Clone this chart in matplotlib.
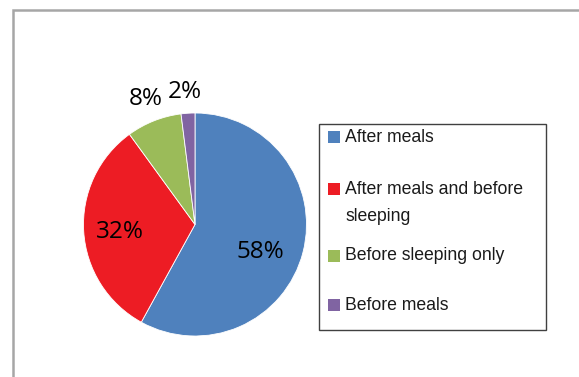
import numpy as np
import matplotlib
matplotlib.use("Agg")
import matplotlib.pyplot as plt
from matplotlib.patches import Rectangle

labels = ["After meals", "After meals and before\nsleeping", "Before sleeping only", "Before meals"]
shares = [58, 32, 8, 2]
colors = ["#4f81bd", "#ed1c24", "#9bbb59", "#8064a2"]

# where each percentage sits, as a fraction of the radius, plus a small angle nudge
label_dist = [0.635, 0.68, 1.21, 1.19]
label_nudge = [-8.5, 2, 0, 1]

W, H = 579, 377
fig = plt.figure(figsize=(W / 100, H / 100), dpi=100)

# outer chart frame, cut off at right and bottom
fig.add_artist(Rectangle((13 / W, -0.2), 1.5, 1.2 - 10.5 / H, transform=fig.transFigure,
                         fill=False, edgecolor="#a6a6a6", linewidth=1.8))

cx, cy, r = 195, 224.5, 111.5
ax = fig.add_axes([(cx - r) / W, (H - cy - r) / H, 2 * r / W, 2 * r / H])
wedges, _ = ax.pie(shares, colors=colors, startangle=90, counterclock=False, radius=1,
                   wedgeprops=dict(linewidth=0.6, edgecolor="white"))
ax.set_xlim(-1, 1)
ax.set_ylim(-1, 1)
ax.set_aspect("auto")
ax.axis("off")

for w, v, d, n in zip(wedges, shares, label_dist, label_nudge):
    mid = np.deg2rad((w.theta1 + w.theta2) / 2 + n)
    ax.text(d * np.cos(mid), d * np.sin(mid), f"{v}%", ha="center", va="center",
            fontsize=17.5, family="Open Sans", color="black")

# legend box drawn by hand
lx0, ly0, lx1, ly1 = 319, 124, 546, 330
fig.add_artist(Rectangle((lx0 / W, 1 - ly1 / H), (lx1 - lx0) / W, (ly1 - ly0) / H,
                         transform=fig.transFigure, fill=False, edgecolor="#404040", linewidth=1.0))
entry_y = [137, 189, 256, 305]
for lab, c, y in zip(labels, colors, entry_y):
    fig.add_artist(Rectangle((328 / W, 1 - (y + 6) / H), 12 / W, 12 / H,
                             transform=fig.transFigure, facecolor=c, edgecolor="none"))
    lines = lab.split("\n")
    for k, line in enumerate(lines):
        fig.text(345 / W, 1 - (y + 27 * k) / H, line, ha="left", va="center",
                 fontsize=12.7, family="Liberation Sans", color="#1a1a1a")

fig.savefig("out.png", dpi=100, facecolor="white")
